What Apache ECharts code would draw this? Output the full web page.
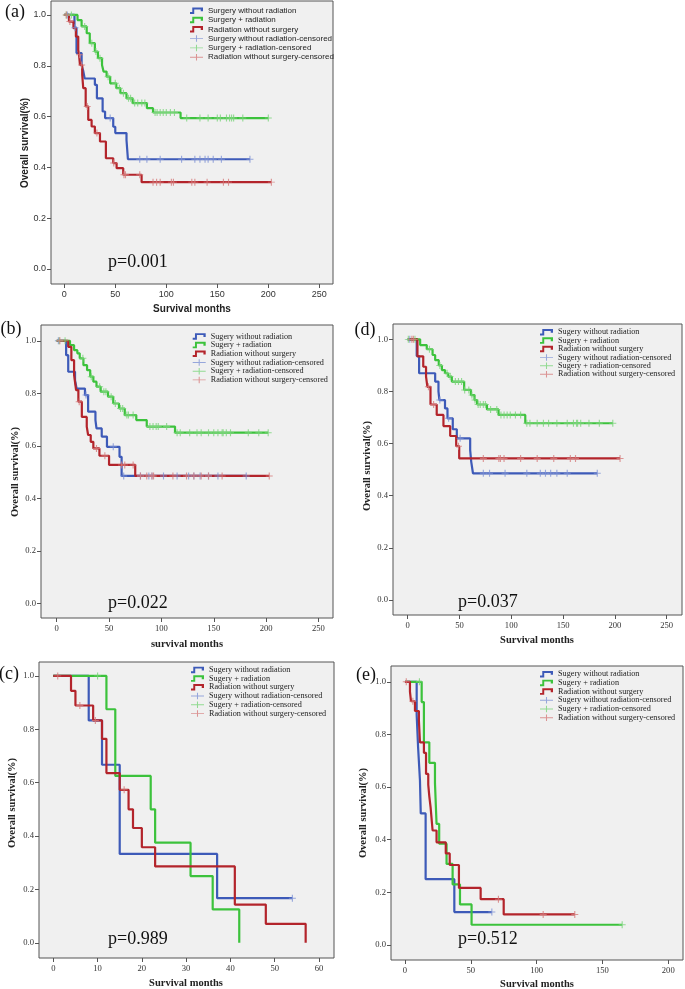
<!DOCTYPE html>
<html>
<head>
<meta charset="utf-8">
<script src="https://cdn.jsdelivr.net/npm/echarts@6/dist/echarts.min.js"></script>
<style>
  html, body { margin: 0; padding: 0; background: #fff; }
  #main { width: 685px; height: 989px; }
</style>
</head>
<body>
<div id="main"></div>
<script>
// ---- tick values ----
const yTicks = [0, 0.2, 0.4, 0.6, 0.8, 1.0];
const months250 = [0, 50, 100, 150, 200, 250];
const months60 = [0, 10, 20, 30, 40, 50, 60];
const months200 = [0, 50, 100, 150, 200];

// ---- legend names ----
const namesSans = ['Surgery without radiation', 'Surgery + radiation', 'Radiation without surgery'];
const namesSerif = ['Sugery without radiation', 'Sugery + radiation', 'Radiation without surgery'];
const pValues = ['p=0.001', 'p=0.022', 'p=0.037', 'p=0.989', 'p=0.512'];

// ---- (a) ----
const aBlueT = [0, 10, 12, 17, 18.6, 20, 30, 32, 37.6, 40, 48, 50, 61, 62.4, 182];
const aBlueS = [1, 0.95, 0.85, 0.8, 0.78, 0.75, 0.725, 0.672, 0.62, 0.594, 0.56, 0.535, 0.508, 0.432, 0.432];
const aBlueC = [3, 10.5, 45, 74, 81, 94, 115, 128, 133, 138, 141, 146, 154, 182];
const aGreenT = [0, 13, 17, 22, 25, 30, 33, 37, 38.5, 41.5, 45, 51, 55, 61, 67, 81, 87, 114, 200];
const aGreenS = [1, 0.98, 0.955, 0.928, 0.889, 0.856, 0.83, 0.803, 0.777, 0.757, 0.731, 0.712, 0.692, 0.672, 0.653, 0.633, 0.616, 0.594, 0.594];
const aGreenC = [2, 7, 20, 27, 31, 35, 43, 50, 54, 58, 63, 65, 69, 72, 76, 79, 89, 91, 94, 97, 100, 104, 108, 120, 133, 141, 150, 153, 159, 162, 164, 166, 175, 200];
const aRedT = [0, 4.6, 9, 11.4, 13.7, 14.5, 15.4, 17.6, 18.6, 21, 23.5, 26.8, 30, 35, 40.8, 48, 51.3, 57.8, 75.8, 203];
const aRedS = [1, 0.974, 0.948, 0.915, 0.862, 0.843, 0.803, 0.764, 0.712, 0.64, 0.587, 0.561, 0.535, 0.502, 0.436, 0.417, 0.397, 0.371, 0.342, 0.342];
const aRedC = [2, 5.5, 15, 17, 22.5, 32, 48.5, 58.5, 60, 74, 87, 90.5, 94, 105, 107, 125, 128, 140, 156, 161, 203];

// ---- (b) ----
const bBlueT = [0, 9, 11, 17.5, 19, 27, 30, 37, 38, 43, 48, 60, 62, 181];
const bBlueS = [1, 0.945, 0.882, 0.85, 0.818, 0.793, 0.73, 0.698, 0.666, 0.635, 0.596, 0.558, 0.485, 0.485];
const bBlueC = [1.6, 28, 54, 64, 80, 88, 91, 102, 115, 126, 131, 137, 145, 154, 181];
const bGreenT = [0, 12.7, 16.6, 19.7, 22, 25.5, 29, 32, 35, 38, 42, 49, 54, 59.5, 65, 76, 86, 113, 202];
const bGreenS = [1, 0.983, 0.964, 0.952, 0.933, 0.907, 0.888, 0.863, 0.844, 0.825, 0.806, 0.787, 0.761, 0.742, 0.717, 0.698, 0.673, 0.65, 0.65];
const bGreenC = [2.5, 8, 25, 33, 41, 45, 47, 52, 56, 61, 63, 67, 68.5, 73, 89, 92, 95, 97, 105, 115, 118, 127, 134, 138, 145, 150, 154, 158, 159, 162, 166, 183, 193, 202];
const bRedT = [0, 11, 14, 16.6, 18.5, 20.7, 24, 28.7, 30, 32.5, 35, 40.8, 50, 75, 203];
const bRedS = [1, 0.977, 0.926, 0.87, 0.812, 0.768, 0.71, 0.673, 0.641, 0.615, 0.59, 0.562, 0.527, 0.485, 0.485];
const bRedC = [3, 21.5, 38, 46, 62, 65, 73, 80, 86, 91, 92.5, 111, 124, 131, 138, 145, 158, 203];

// ---- (d) ----
const dBlueT = [0, 8.7, 11, 26.5, 29.7, 30.6, 36, 38.4, 43.5, 47.4, 60.3, 61.3, 63, 183];
const dBlueS = [1, 0.936, 0.87, 0.838, 0.8, 0.767, 0.735, 0.697, 0.655, 0.62, 0.575, 0.531, 0.486, 0.486];
const dBlueC = [2, 31, 39.5, 50.6, 73, 79, 94, 115, 128, 133, 138, 144, 154, 183];
const dGreenT = [0, 12, 18.4, 24, 26.5, 30, 33, 36, 39, 42.6, 54.5, 61, 64.5, 67, 76.5, 87.7, 113.5, 198];
const dGreenS = [1, 0.978, 0.962, 0.94, 0.92, 0.9, 0.882, 0.87, 0.857, 0.838, 0.806, 0.786, 0.767, 0.75, 0.731, 0.71, 0.678, 0.678];
const dGreenC = [0.6, 7, 21, 31, 38, 41, 46, 49, 52, 55, 59, 62, 65, 68, 70, 73, 75, 80, 86, 90, 93, 96, 99, 104, 109, 115, 118, 125, 131, 136, 144, 154, 160, 163, 164, 167, 175, 185, 198];
const dRedT = [0, 9.4, 15, 17.7, 19, 22, 28, 34.5, 41, 46.8, 49.7, 205];
const dRedS = [1, 0.935, 0.895, 0.857, 0.818, 0.75, 0.71, 0.667, 0.629, 0.59, 0.543, 0.543];
const dRedC = [4, 5.5, 20, 25, 49, 73, 88, 89.5, 93, 109, 125, 141, 157, 162, 205];

// ---- (c) ----
const cBlueT = [0, 8, 11, 15, 37, 54];
const cBlueS = [1, 0.833, 0.667, 0.333, 0.167, 0.167];
const cBlueC = [54];
const cGreenT = [0, 12, 14, 22, 23, 31, 36, 42];
const cGreenS = [1, 0.875, 0.625, 0.5, 0.375, 0.25, 0.125, 0];
const cGreenC = [10];
const cRedT = [0, 4, 5, 9, 11, 12, 15, 17, 18, 20, 23, 41, 48, 57];
const cRedS = [1, 0.944, 0.889, 0.833, 0.764, 0.636, 0.573, 0.5, 0.43, 0.358, 0.286, 0.143, 0.071, 0];
const cRedC = [1, 6, 9.5, 16];

// ---- (e) ----
const eBlueT = [0, 8.9, 10, 11.4, 12, 15.7, 37.5, 66];
const eBlueS = [1, 0.875, 0.75, 0.625, 0.5, 0.25, 0.125, 0.125];
const eBlueC = [66];
const eGreenT = [0, 12.7, 14.4, 18.5, 22.8, 24, 26, 31.6, 36.2, 41.8, 50.6, 165];
const eGreenS = [1, 0.923, 0.77, 0.692, 0.615, 0.46, 0.385, 0.308, 0.23, 0.154, 0.077, 0.077];
const eGreenC = [11, 165];
const eRedT = [0, 3.8, 4.6, 7.6, 10.6, 11.4, 14.4, 16, 17.7, 18.5, 19.5, 21, 24, 31, 34, 41, 57.5, 75, 129];
const eRedS = [1, 0.963, 0.926, 0.889, 0.852, 0.77, 0.73, 0.65, 0.609, 0.565, 0.522, 0.435, 0.39, 0.348, 0.304, 0.217, 0.174, 0.116, 0.116];
const eRedC = [1, 6, 71, 105, 129];

// colours: blue, green, red
const lineColors = ['#3d5ab8', '#3cc23c', '#b3242b'];
const censorColors = ['#7f94d6', '#7ad47a', '#d67c7c'];

const SANS = 'Liberation Sans';
const SERIF = 'Liberation Serif';
const stepIcon = 'path://M0,7H3.5V0H20V6H16.5V3H6.5V10H0Z';
const plusIcon = 'path://M0,4.3H20V5.7H0Z M9.2,0H10.8V10H9.2Z';
const plusMark = 'path://M4.2,0H5.8V10H4.2Z M0,4.3H10V5.7H0Z';

// layout of the five panels
const panels = [
  { tag: '(a)', p: pValues[0], box: [51, 1, 282, 283], xr: [-13, 263.4], yr: [-0.059, 1.055], xt: months250,
    font: SANS, names: namesSans, curves: [[aBlueT, aBlueS, aBlueC], [aGreenT, aGreenS, aGreenC], [aRedT, aRedS, aRedC]],
    tagPos: [15, 12.5], pPos: [108, 262], yTitle: [25, 143], xTitle: [192, 309, 'Survival months'],
    leg: [190, 6.7, 1.3, 8] },
  { tag: '(b)', p: pValues[1], box: [41, 325, 292, 293], xr: [-15, 263.9], yr: [-0.056, 1.06], xt: months250,
    font: SERIF, names: namesSerif, curves: [[bBlueT, bBlueS, bBlueC], [bGreenT, bGreenS, bGreenC], [bRedT, bRedS, bRedC]],
    tagPos: [11, 329], pPos: [108, 603], yTitle: [15, 472], xTitle: [187, 644, 'survival months'],
    leg: [192.7, 332.4, 0.7, 8.2] },
  { tag: '(d)', p: pValues[2], box: [393, 324, 289, 291], xr: [-14.2, 264.8], yr: [-0.058, 1.059], xt: months250,
    font: SERIF, names: namesSerif, curves: [[dBlueT, dBlueS, dBlueC], [dGreenT, dGreenS, dGreenC], [dRedT, dRedS, dRedC]],
    tagPos: [365, 330.5], pPos: [458, 602], yTitle: [367, 466], xTitle: [537, 640, 'Survival months'],
    leg: [540, 328.2, 0.4, 8.2] },
  { tag: '(c)', p: pValues[3], box: [39, 662, 295, 296], xr: [-3.23, 63.4], yr: [-0.057, 1.052], xt: months60,
    font: SERIF, names: namesSerif, curves: [[cBlueT, cBlueS, cBlueC], [cGreenT, cGreenS, cGreenC], [cRedT, cRedS, cRedC]],
    tagPos: [9, 674], pPos: [108, 939], yTitle: [12, 803], xTitle: [186, 983, 'Survival months'],
    leg: [191, 665.9, 0.7, 8.2] },
  { tag: '(e)', p: pValues[4], box: [391, 666, 292, 294], xr: [-10.6, 211.2], yr: [-0.057, 1.06], xt: months200,
    font: SERIF, names: namesSerif, curves: [[eBlueT, eBlueS, eBlueC], [eGreenT, eGreenS, eGreenC], [eRedT, eRedS, eRedC]],
    tagPos: [366, 675], pPos: [458, 939], yTitle: [363, 813], xTitle: [537, 984, 'Survival months'],
    leg: [540, 670.2, 0.7, 8.2] }
];

function survAt(T, S, t) {
  let s = S[0];
  for (let i = 0; i < T.length; i++) if (T[i] <= t) s = S[i];
  return s;
}

const grid = [], xAxis = [], yAxis = [], series = [], legend = [], graphic = [];

panels.forEach((pn, i) => {
  const sans = pn.font === SANS;
  const tickSize = sans ? 9 : 8.6;
  grid.push({
    left: pn.box[0], top: pn.box[1], width: pn.box[2], height: pn.box[3],
    show: true, backgroundColor: '#f0f0f0', borderColor: '#555', borderWidth: 1
  });
  xAxis.push({
    gridIndex: i, type: 'value', min: pn.xr[0], max: pn.xr[1], position: 'bottom',
    axisLine: { show: false, onZero: false }, splitLine: { show: false },
    axisTick: { show: true, length: 4, customValues: pn.xt, lineStyle: { color: '#555' } },
    axisLabel: { customValues: pn.xt, margin: 6, fontFamily: pn.font, fontSize: tickSize, color: '#333' }
  });
  yAxis.push({
    gridIndex: i, type: 'value', min: pn.yr[0], max: pn.yr[1], position: 'left',
    axisLine: { show: false, onZero: false }, splitLine: { show: false },
    axisTick: { show: true, length: 4, customValues: yTicks, lineStyle: { color: '#555' } },
    axisLabel: { customValues: yTicks, margin: 5, fontFamily: pn.font, fontSize: tickSize, color: '#333',
      formatter: v => v.toFixed(1) }
  });
  pn.curves.forEach((cv, k) => {
    const [T, S, C] = cv;
    series.push({
      type: 'line', name: pn.names[k], xAxisIndex: i, yAxisIndex: i, step: 'end',
      data: T.map((t, j) => [t, S[j]]), showSymbol: false, symbol: 'none',
      lineStyle: { color: lineColors[k], width: 2.2 }, itemStyle: { color: lineColors[k] },
      z: 2, silent: true, animation: false
    });
    series.push({
      type: 'scatter', name: pn.names[k] + '-censored', xAxisIndex: i, yAxisIndex: i,
      data: C.map(t => [t, survAt(T, S, t)]), symbol: plusMark, symbolSize: 7,
      itemStyle: { color: censorColors[k] }, z: 3, silent: true, animation: false
    });
  });
  legend.push({
    orient: 'vertical', left: pn.leg[0], top: pn.leg[1], itemGap: pn.leg[2],
    itemWidth: 13, itemHeight: 7, padding: 0, selectedMode: false,
    itemStyle: { borderWidth: 0 },
    textStyle: { fontFamily: pn.font, fontSize: pn.leg[3], color: '#222' },
    data: pn.names.map(n => ({ name: n, icon: stepIcon }))
      .concat(pn.names.map(n => ({ name: n + '-censored', icon: plusIcon })))
  });
  graphic.push({ type: 'text', x: pn.tagPos[0], y: pn.tagPos[1],
    style: { text: pn.tag, fontFamily: SERIF, fontSize: 18, fill: '#111', align: 'center', verticalAlign: 'middle' } });
  graphic.push({ type: 'text', x: pn.pPos[0], y: pn.pPos[1],
    style: { text: pn.p, fontFamily: SERIF, fontSize: 18, fill: '#111', align: 'left', verticalAlign: 'middle' } });
  graphic.push({ type: 'text', x: pn.yTitle[0], y: pn.yTitle[1], rotation: Math.PI / 2,
    style: { text: 'Overall survival(%)', fontFamily: pn.font, fontWeight: 'bold', fontSize: sans ? 10 : 10.5,
      fill: '#222', align: 'center', verticalAlign: 'middle' } });
  graphic.push({ type: 'text', x: pn.xTitle[0], y: pn.xTitle[1],
    style: { text: pn.xTitle[2], fontFamily: pn.font, fontWeight: 'bold', fontSize: sans ? 10 : 10.5,
      fill: '#222', align: 'center', verticalAlign: 'middle' } });
});

const chart = echarts.init(document.getElementById('main'));
chart.setOption({
  animation: false,
  backgroundColor: '#fff',
  grid: grid,
  xAxis: xAxis,
  yAxis: yAxis,
  legend: legend,
  series: series,
  graphic: graphic
});
</script>
</body>
</html>
